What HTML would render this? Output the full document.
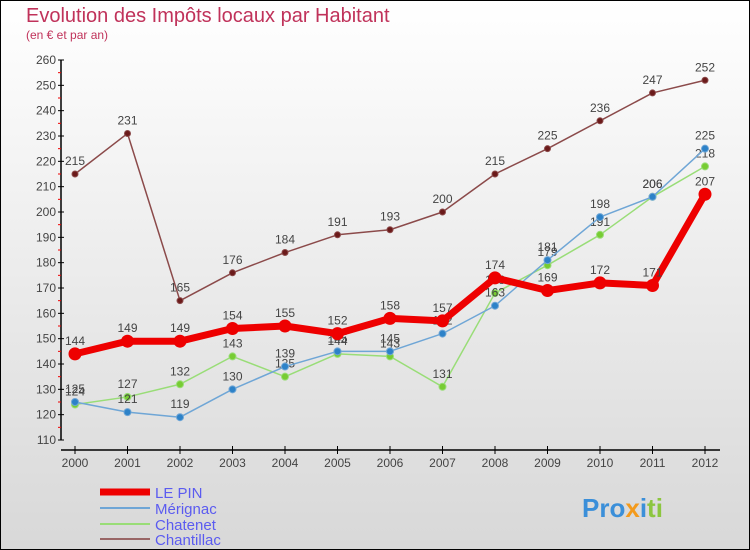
<!DOCTYPE html>
<html><head><meta charset="utf-8"><style>
body{margin:0}
#wrap{width:750px;height:550px;position:relative;overflow:hidden;font-family:"Liberation Sans",sans-serif}
</style></head><body>
<div id="wrap">
<svg id="svg" width="750" height="550" xmlns="http://www.w3.org/2000/svg">
<defs><linearGradient id="bg" x1="0" y1="0" x2="0" y2="1"><stop offset="0" stop-color="#ffffff"/><stop offset="1" stop-color="#d8d8d8"/></linearGradient></defs>
<rect x="0.5" y="0.5" width="749" height="549" fill="url(#bg)" stroke="#000"/>
<text x="26" y="22" font-size="20" fill="#c0325a">Evolution des Impôts locaux par Habitant</text>
<text x="26" y="39" font-size="12" fill="#c0325a">(en € et par an)</text>
<g id="axes"></g><g id="series"></g>
<g>
<line x1="100" y1="492" x2="150" y2="492" stroke="#ee0000" stroke-width="7"/>
<text x="155" y="498" font-size="15" fill="#5b5bf0">LE PIN</text>
<line x1="100" y1="508" x2="150" y2="508" stroke="#6fa6d6" stroke-width="2"/>
<text x="155" y="514" font-size="15" fill="#5b5bf0">Mérignac</text>
<line x1="100" y1="524" x2="150" y2="524" stroke="#99dd77" stroke-width="2"/>
<text x="155" y="530" font-size="15" fill="#5b5bf0">Chatenet</text>
<line x1="100" y1="539" x2="150" y2="539" stroke="#996666" stroke-width="2"/>
<text x="155" y="545" font-size="15" fill="#5b5bf0">Chantillac</text>
</g>
<text x="582" y="517" font-size="26" font-weight="bold"><tspan fill="#3b8fd9">Pro</tspan><tspan fill="#f39a1c">x</tspan><tspan fill="#3b8fd9">i</tspan><tspan fill="#8cc63f">ti</tspan></text>
</svg></div>
<script>
const years=[2000,2001,2002,2003,2004,2005,2006,2007,2008,2009,2010,2011,2012];
const yTicks=[110,120,130,140,150,160,170,180,190,200,210,220,230,240,250,260];
const lePin=[144,149,149,154,155,152,158,157,174,169,172,171,207];
const merignac=[125,121,119,130,139,145,145,152,163,181,198,206,225];
const chatenet=[124,127,132,143,135,144,143,131,168,179,191,206,218];
const chantillac=[215,231,165,176,184,191,193,200,215,225,236,247,252];
const NS="http://www.w3.org/2000/svg";
function xs(i){return 75+i*52.5;}
function ys(v){return 440-(v-110)*380/150;}
function mk(tag,attrs,parent){const e=document.createElementNS(NS,tag);for(const k in attrs)e.setAttribute(k,attrs[k]);parent.appendChild(e);return e;}
const ax=document.getElementById('axes');
let l=mk('line',{x1:61,y1:ys(260),x2:61,y2:ys(110),stroke:'#000','stroke-width':1.5},ax);


l=mk('line',{x1:61,y1:450,x2:720,y2:450,stroke:'#000','stroke-width':1.5},ax);


yTicks.forEach((v,i)=>{
 mk('line',{x1:58,y1:ys(v),x2:64,y2:ys(v),stroke:'#000'},ax);
 if(i<yTicks.length-1)mk('line',{x1:58,y1:ys(v+5),x2:61,y2:ys(v+5),stroke:'#e00'},ax);
 const t=mk('text',{x:56,y:ys(v)+4,'text-anchor':'end','font-size':12,fill:'#444'},ax);t.textContent=v;
 
 
});
years.forEach((y,i)=>{
 mk('line',{x1:xs(i),y1:446,x2:xs(i),y2:454,stroke:'#000'},ax);
 const t=mk('text',{x:xs(i),y:467,'text-anchor':'middle','font-size':12,fill:'#444'},ax);t.textContent=y;
 
 
});
const sg=document.getElementById('series');
function draw(data,name,color,dot,w,r){
 const g=mk('g',{},sg);
 
 
 const p=mk('polyline',{points:data.map((v,i)=>xs(i)+','+ys(v)).join(' '),fill:'none',stroke:color,'stroke-width':w,'stroke-linejoin':'round'},g);
 data.forEach((v,i)=>{
  const c=mk('circle',{cx:xs(i),cy:ys(v),r:r,fill:dot,stroke:color,'stroke-width':1},g);
  
  
  const t=mk('text',{x:xs(i),y:ys(v)-9,'text-anchor':'middle','font-size':12,fill:'#444'},g);t.textContent=v;
  
  
 });
}
draw(chantillac,'chantillac','#8b4a4a','#6b1a1a',1.5,3);
draw(chatenet,'chatenet','#99dd77','#77cc33',1.5,3.5);
draw(merignac,'merignac','#6fa6d6','#2d82c8',1.5,3.5);
draw(lePin,'le-pin','#ee0000','#ee0000',7,6);
</script>
</body></html>
